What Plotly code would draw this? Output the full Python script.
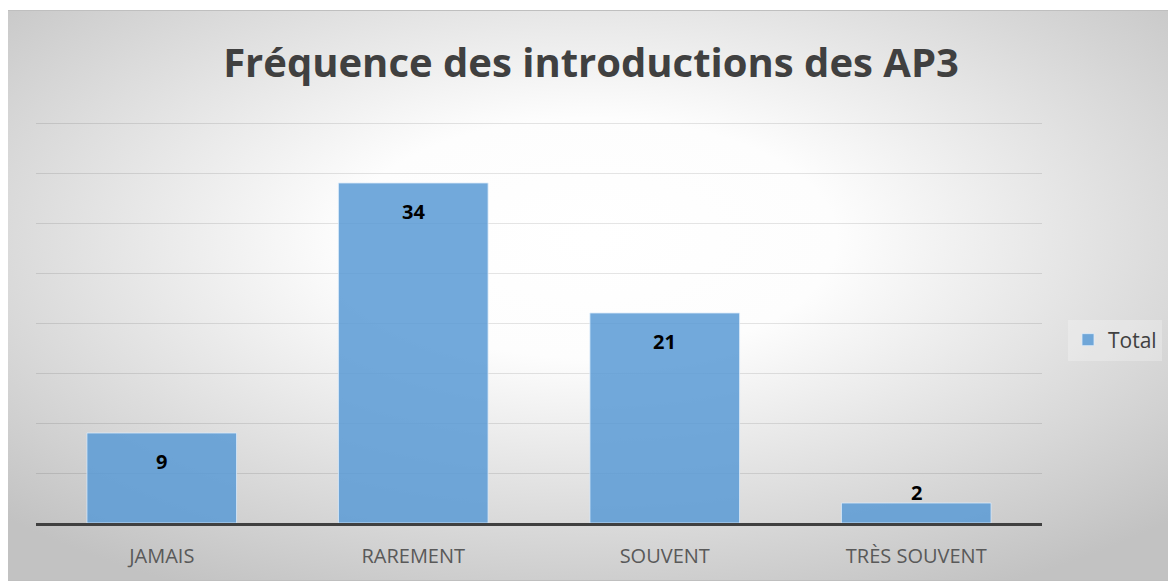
import base64
import plotly.graph_objects as go

categories = ["JAMAIS", "RAREMENT", "SOUVENT", "TRÈS SOUVENT"]
totals = [9, 34, 21, 2]
label_shift = [-28, -28, -28, 11]

# page has an 8px body margin; figure covers page 8..1176 x 8..581
W, H = 1168, 573
L, R, T, B = 28, 134, 113, 58
PW, PH = W - L - R, H - T - B

svg = """<svg xmlns='http://www.w3.org/2000/svg' width='1170' height='571' viewBox='0 0 1170 571' preserveAspectRatio='none'>
<defs><radialGradient id='g' cx='50%' cy='40%' r='70%'>
<stop offset='0' stop-color='#ffffff'/><stop offset='0.3' stop-color='#fdfdfd'/><stop offset='1' stop-color='#c2c2c2'/>
</radialGradient></defs>
<rect x='0' y='0' width='1170' height='571' fill='url(#g)'/>
<rect x='0.5' y='0.5' width='1169' height='570' fill='none' stroke='#bfbfbf' stroke-width='1'/>
</svg>"""
src = "data:image/svg+xml;base64," + base64.b64encode(svg.encode()).decode()

fig = go.Figure()
fig.add_trace(go.Bar(
    x=categories, y=totals, name="Total",
    marker=dict(color="rgba(91,155,213,0.86)", line=dict(color="rgba(220,235,250,0.8)", width=1)),
    showlegend=True,
))

for c, v, s in zip(categories, totals, label_shift):
    fig.add_annotation(x=c, y=v, xref="x", yref="y", text=f"<b>{v}</b>", showarrow=False,
                       yshift=s, font=dict(family="Open Sans, sans-serif", size=20, color="#000000"))

fig.add_layout_image(dict(
    source=src, xref="paper", yref="paper",
    x=(-2 - L) / PW, y=(H - B - 2) / PH, sizex=1170 / PW, sizey=571 / PH,
    xanchor="left", yanchor="top", sizing="stretch", layer="below",
))

fig.update_layout(
    width=W, height=H,
    margin=dict(l=L, r=R, t=T, b=B),
    paper_bgcolor="#ffffff", plot_bgcolor="rgba(0,0,0,0)",
    title=dict(text="<b>Fréquence des introductions des AP3</b>", x=583 / W, xanchor="center",
               xref="container", y=1 - 55 / H, yanchor="middle", yref="container",
               font=dict(family="Open Sans, sans-serif", size=40, color="#404040")),
    bargap=0.405,
    xaxis=dict(showline=True, linecolor="#404040", linewidth=3, ticks="outside", ticklen=13,
               tickcolor="rgba(0,0,0,0)",
               tickfont=dict(family="Open Sans, sans-serif", size=20, color="#595959"),
               showgrid=False, fixedrange=True),
    yaxis=dict(range=[0, 40.2], dtick=5, showticklabels=False, showgrid=True,
               gridcolor="rgba(0,0,0,0.1)", gridwidth=1, zeroline=False, fixedrange=True),
    legend=dict(x=(1060 - L) / PW, y=(515 - 332) / PH, xanchor="left", yanchor="middle",
                bgcolor="rgba(255,255,255,0.25)",
                font=dict(family="Open Sans, sans-serif", size=21, color="#404040")),
)

fig.write_html("out.html")
